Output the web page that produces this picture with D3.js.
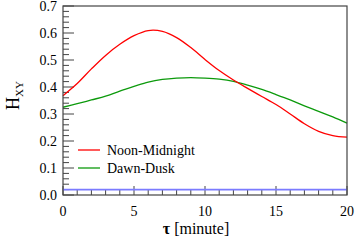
<!DOCTYPE html>
<html>
<head>
<meta charset="utf-8">
<script src="https://cdn.jsdelivr.net/npm/d3@7"></script>
<style>
  body { margin: 0; background: #fff; }
</style>
</head>
<body>
<div id="chart"></div>
<script>
// lag values, minutes
const tau = [0,1,2,3,4,5,6,7,8,9,10,11,12,13,14,15,16,17,18,19,20]
const noonMidnight = [0.368,0.413,0.467,0.517,0.558,0.590,0.609,0.606,0.583,0.546,0.502,0.461,0.426,0.395,0.365,0.335,0.300,0.264,0.236,0.220,0.214]
const dawnDusk = [0.325,0.338,0.352,0.366,0.385,0.402,0.418,0.428,0.433,0.435,0.433,0.429,0.421,0.407,0.391,0.372,0.352,0.330,0.310,0.289,0.266]
const baseline = [0.02,0.02,0.02,0.02,0.02,0.02,0.02,0.02,0.02,0.02,0.02,0.02,0.02,0.02,0.02,0.02,0.02,0.02,0.02,0.02,0.02]
const xTicks = [0,5,10,15,20]
const yTicks = [0,0.1,0.2,0.3,0.4,0.5,0.6,0.7]
const seriesNames = ["Noon-Midnight", "Dawn-Dusk"]

const serif = "Liberation Serif"

const margin = { top: 6, right: 8, bottom: 45, left: 63 }
const width = 355 - margin.left - margin.right,
    height = 240 - margin.top - margin.bottom;

let svg = d3.select("#chart").append("svg")
    .attr("width", 355)
    .attr("height", 240)
    .append("g")
    .attr("transform", "translate(" + margin.left + "," + margin.top + ")");

let x = d3.scaleLinear().domain([0, 20]).range([0, width])
let y = d3.scaleLinear().domain([0, 0.7]).range([height, 0])

const axisColor = "#444"

// minor ticks, pointing inward
let xMinor = d3.range(0, 21, 1)
svg.selectAll(".xtick")
    .data(xMinor)
    .enter().append("line")
    .attr("x1", d => x(d)).attr("x2", d => x(d))
    .attr("y1", height)
    .attr("y2", d => height - (d % 5 === 0 ? 9 : 5))
    .attr("stroke", axisColor)

let yMinor = d3.range(0, 36, 1).map(i => i * 0.02)
svg.selectAll(".ytick")
    .data(yMinor)
    .enter().append("line")
    .attr("x1", 0)
    .attr("x2", (d, i) => (i % 5 === 0 ? 11 : 6))
    .attr("y1", d => y(d)).attr("y2", d => y(d))
    .attr("stroke", axisColor)

// tick labels
svg.selectAll(".xlab")
    .data(xTicks)
    .enter().append("text")
    .attr("x", d => x(d))
    .attr("y", height + 21)
    .attr("text-anchor", "middle")
    .attr("font-family", serif)
    .attr("font-size", 14)
    .text(d => d)

svg.selectAll(".ylab")
    .data(yTicks)
    .enter().append("text")
    .attr("x", -6)
    .attr("y", d => y(d) + 4.5)
    .attr("text-anchor", "end")
    .attr("font-family", serif)
    .attr("font-size", 14)
    .text(d => d3.format(".1f")(d))

// series
let line = d3.line()
    .x((d, i) => x(tau[i]))
    .y(d => y(d))
    .curve(d3.curveCatmullRom)

svg.append("path").datum(baseline)
    .attr("d", line).attr("fill", "none")
    .attr("stroke", "#7b7bff").attr("stroke-width", 1.6)

svg.append("path").datum(dawnDusk)
    .attr("d", line).attr("fill", "none")
    .attr("stroke", "#0c9a0c").attr("stroke-width", 1.3)

svg.append("path").datum(noonMidnight)
    .attr("d", line).attr("fill", "none")
    .attr("stroke", "#ff0000").attr("stroke-width", 1.3)

// frame
svg.append("rect")
    .attr("x", 0).attr("y", 0)
    .attr("width", width).attr("height", height)
    .attr("fill", "none")
    .attr("stroke", axisColor)
    .attr("stroke-width", 1.2)

// legend
const legendColors = ["#ff0000", "#0c9a0c"]
let legend = svg.selectAll(".legend")
    .data(seriesNames)
    .enter().append("g")
    .attr("transform", (d, i) => "translate(15," + (144 + i * 18) + ")")

legend.append("line")
    .attr("x1", 0).attr("x2", 22)
    .attr("y1", 0).attr("y2", 0)
    .attr("stroke", (d, i) => legendColors[i])
    .attr("stroke-width", 1.3)

legend.append("text")
    .attr("x", 29).attr("y", 5)
    .attr("font-family", serif)
    .attr("font-size", 14)
    .text(d => d)

// axis titles
let xt = svg.append("text")
    .attr("x", width / 2 - 9)
    .attr("y", height + 39)
    .attr("text-anchor", "middle")
    .attr("font-family", serif)
    .attr("font-size", 16)
xt.append("tspan").attr("font-weight", "bold").text("τ")
xt.append("tspan").text("  [minute]")

let yt = svg.append("text")
    .attr("transform", "translate(" + (-44) + "," + (height / 2 - 5) + ") rotate(-90)")
    .attr("text-anchor", "middle")
    .attr("font-family", serif)
    .attr("font-size", 18)
yt.append("tspan").text("H")
yt.append("tspan").attr("font-size", 11).attr("dy", 4).text("XY")
</script>
</body>
</html>
